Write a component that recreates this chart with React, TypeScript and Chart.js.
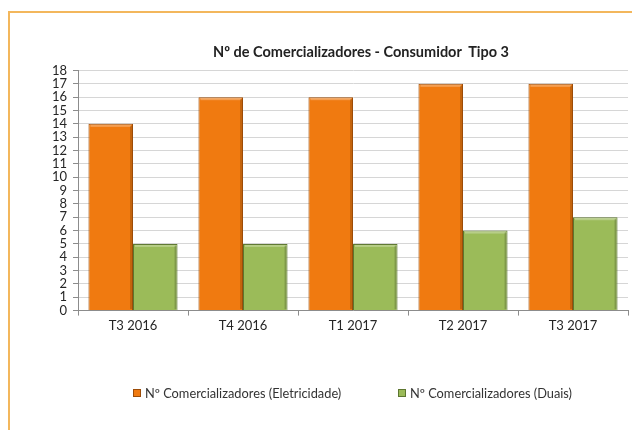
import React, { useEffect, useRef } from "react";
import { Chart, registerables } from "chart.js";

Chart.register(...registerables);

const categories = ["T3 2016", "T4 2016", "T1 2017", "T2 2017", "T3 2017"];
const eletricidade = [14, 16, 16, 17, 17];
const duais = [5, 5, 5, 6, 7];
const seriesLabels = [
  "Nº Comercializadores (Eletricidade)",
  "Nº Comercializadores (Duais)",
];
const titleText = "Nº de Comercializadores - Consumidor  Tipo 3";
const yMin = 0;
const yMax = 18;

const FONT = "Lato, 'Open Sans', sans-serif";
const ORANGE = "#f07a10";
const ORANGE_EDGE = "#9c4c08";
const GREEN = "#9bbb59";
const GREEN_EDGE = "#5d7630";
const seriesColors = [ORANGE, GREEN];
const seriesEdges = [ORANGE_EDGE, GREEN_EDGE];

// Soft bevel highlight on top edge of bars
const bevelPlugin = {
  id: "bevel",
  afterDatasetsDraw(chart: any) {
    const ctx = chart.ctx;
    chart.data.datasets.forEach((_: any, di: number) => {
      const meta = chart.getDatasetMeta(di);
      meta.data.forEach((bar: any) => {
        const { x, y, width, base } = bar.getProps(["x", "y", "width", "base"], true);
        const left = x - width / 2;
        ctx.save();
        ctx.fillStyle = "rgba(255,255,255,0.28)";
        ctx.fillRect(left + 2, y + 1, width - 4, 2);
        ctx.fillStyle = "rgba(0,0,0,0.18)";
        ctx.fillRect(left + width - 3, y + 2, 2, base - y - 3);
        ctx.restore();
      });
    });
  },
};

export default function App() {
  const canvasRef = useRef<HTMLCanvasElement | null>(null);

  useEffect(() => {
    const canvas = canvasRef.current;
    if (!canvas) return;
    const chart = new Chart(canvas, {
      type: "bar",
      data: {
        labels: categories,
        datasets: [
          {
            label: seriesLabels[0],
            data: eletricidade,
            backgroundColor: ORANGE,
            borderColor: ORANGE_EDGE,
            borderWidth: 1,
            categoryPercentage: 0.81,
            barPercentage: 1,
          },
          {
            label: seriesLabels[1],
            data: duais,
            backgroundColor: GREEN,
            borderColor: GREEN_EDGE,
            borderWidth: 1,
            categoryPercentage: 0.81,
            barPercentage: 1,
          },
        ],
      },
      plugins: [bevelPlugin],
      options: {
        animation: false,
        responsive: false,
        maintainAspectRatio: false,
        layout: { padding: { left: 10, right: 4, top: 70.5, bottom: 89.4 } },
        plugins: {
          legend: { display: false },
          title: { display: false },
          tooltip: { enabled: false },
        },
        scales: {
          x: {
            grid: {
              offset: true,
              drawOnChartArea: false,
              drawTicks: true,
              tickLength: 5,
              color: "#8c8c8c",
            },
            border: { color: "#8c8c8c", width: 1 },
            ticks: {
              color: "#262626",
              font: { family: FONT, size: 13 },
              padding: 2,
            },
            afterFit: (scale: any) => {
              scale.height = 30;
            },
          },
          y: {
            min: yMin,
            max: yMax,
            grid: {
              color: "#d6d6d6",
              tickLength: 5,
              tickColor: "#8c8c8c",
            },
            border: { color: "#8c8c8c", width: 1 },
            ticks: {
              stepSize: 1,
              autoSkip: false,
              color: "#262626",
              font: { family: FONT, size: 13 },
              padding: 6,
            },
            afterFit: (scale: any) => {
              scale.width = 68;
            },
          },
        },
      },
    });
    return () => chart.destroy();
  }, []);

  return (
    <div
      style={{
        position: "fixed",
        left: 0,
        top: 0,
        width: 632,
        height: 430,
        overflow: "hidden",
        background: "#ffffff",
        fontFamily: FONT,
      }}
    >
      <div
        style={{
          position: "absolute",
          left: 8,
          top: 11,
          width: 700,
          height: 500,
          borderTop: "2px solid #f3b75c",
          borderLeft: "2px solid #f3b75c",
        }}
      />
      <canvas
        ref={canvasRef}
        width={632}
        height={430}
        style={{ position: "absolute", left: 0, top: 0, width: 632, height: 430 }}
      />
      <div
        style={{
          position: "absolute",
          left: 0,
          width: 722,
          top: 43,
          height: 18,
          lineHeight: "18px",
          textAlign: "center",
          fontWeight: 700,
          fontSize: 14.5,
          color: "#222222",
          whiteSpace: "pre",
        }}
      >
        {titleText}
      </div>
      {seriesLabels.map((label, i) => (
        <div
          key={label}
          style={{
            position: "absolute",
            left: i === 0 ? 133 : 398,
            top: 385,
            height: 16,
            display: "flex",
            alignItems: "center",
            fontSize: 12.8,
            color: "#333333",
            whiteSpace: "pre",
          }}
        >
          <span
            style={{
              display: "inline-block",
              width: 6,
              height: 6,
              background: seriesColors[i],
              border: `1px solid ${seriesEdges[i]}`,
              marginRight: 4,
            }}
          />
          {label}
        </div>
      ))}
    </div>
  );
}
